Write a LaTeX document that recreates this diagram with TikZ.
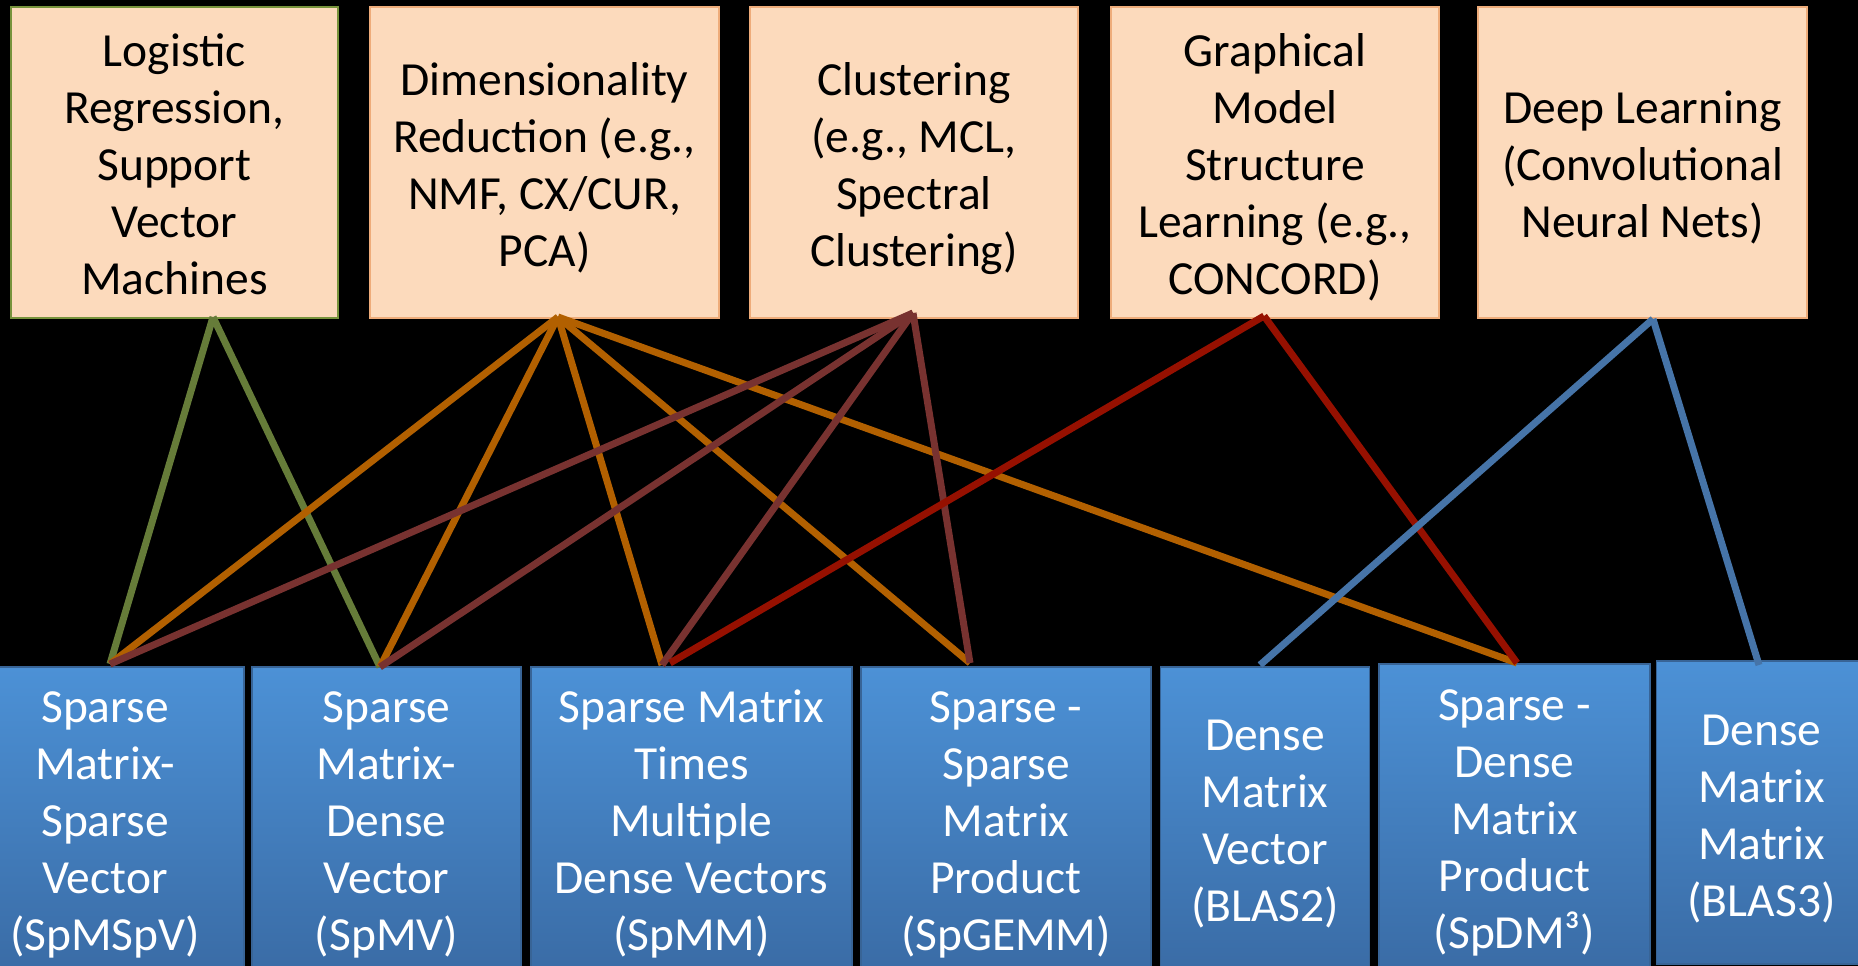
\documentclass[tikz,border=0pt]{standalone}
\usepackage{fontspec}
\setmainfont{Carlito}
\definecolor{peach}{RGB}{252,218,188}
\definecolor{peachedge}{RGB}{238,172,122}
\definecolor{olivebox}{RGB}{119,147,60}
\definecolor{bluetop}{RGB}{76,145,214}
\definecolor{bluebot}{RGB}{58,108,166}
\definecolor{blueedge}{RGB}{56,100,150}
\definecolor{lgreen}{RGB}{102,124,57}
\definecolor{lorange}{RGB}{178,96,0}
\definecolor{lbrown}{RGB}{120,50,48}
\definecolor{lred}{RGB}{150,16,0}
\definecolor{lblue}{RGB}{70,116,168}
\newcommand\hstrut{\rule{0pt}{49pt}}
\newcommand\dstrut{\rule[-13pt]{0pt}{13pt}}
\begin{document}
\begin{tikzpicture}[x=1pt,y=-1pt,
  txt/.style={align=center, font=\fontsize{47.5}{57}\selectfont},
  topbox/.style={rectangle, fill=peach, draw=peachedge, line width=1.2pt, inner sep=0pt,
    minimum height=311pt, txt, text=black},
  botbox/.style={rectangle, top color=bluetop, bottom color=bluebot, draw=blueedge,
    line width=1.2pt, inner sep=0pt, txt, text=white},
  link/.style={line width=7pt}]
\fill[black] (0,0) rectangle (1858,966);
\useasboundingbox (0,0) rectangle (1858,966);
\clip (0,0) rectangle (1858,966);
% top boxes
\node[topbox, draw=olivebox, minimum width=327pt] (t1) at (174.4,162.5)
  {\hstrut Logistic\\Regression,\\Support\\Vector\\Machines\dstrut};
\node[topbox, minimum width=349pt] (t2) at (544.5,162.5)
  {\hstrut Dimensionality\\Reduction (e.g.,\\NMF, CX/CUR,\\PCA)\dstrut};
\node[topbox, minimum width=328pt] (t3) at (914,162.5)
  {\hstrut Clustering\\(e.g., MCL,\\Spectral\\Clustering)\dstrut};
\node[topbox, minimum width=328pt] (t4) at (1275,162.5)
  {\hstrut Graphical\\Model\\Structure\\Learning (e.g.,\\CONCORD)\dstrut};
\node[topbox, minimum width=329pt] (t5) at (1642.5,162.5)
  {\hstrut Deep Learning\\(Convolutional\\Neural Nets)\dstrut};
% bottom boxes
\node[botbox, minimum width=278pt, minimum height=302pt] (bA) at (105,818)
  {\hstrut Sparse\\Matrix-\\Sparse\\Vector\\(SpMSpV)\dstrut};
\node[botbox, minimum width=269pt, minimum height=302pt] (bB) at (386.5,818)
  {\hstrut Sparse\\Matrix-\\Dense\\Vector\\(SpMV)\dstrut};
\node[botbox, minimum width=321pt, minimum height=302pt] (bC) at (691.5,818)
  {\hstrut Sparse Matrix\\Times\\Multiple\\Dense Vectors\\(SpMM)\dstrut};
\node[botbox, minimum width=290pt, minimum height=302pt] (bD) at (1006,818)
  {\hstrut Sparse -\\Sparse\\Matrix\\Product\\(SpGEMM)\dstrut};
\node[botbox, minimum width=209pt, minimum height=301pt] (bE) at (1265,817.5)
  {\hstrut Dense\\Matrix\\Vector\\(BLAS2)\dstrut};
\node[botbox, minimum width=271pt, minimum height=304pt] (bF) at (1514.5,816)
  {\hstrut Sparse -\\Dense\\Matrix\\Product\\(SpDM³)\dstrut};
\node[botbox, minimum width=210pt, minimum height=303pt] (bG) at (1761.5,812.5)
  {\hstrut Dense\\Matrix\\Matrix\\(BLAS3)\dstrut};
% connector end points
\coordinate (ag) at (213,317);
\coordinate (ao) at (558,317);
\coordinate (ab) at (913,313);
\coordinate (ar) at (1264,316);
\coordinate (al) at (1653,319);
\coordinate (pA) at (110,664);
\coordinate (pB) at (380,667);
\coordinate (pC) at (662,665);
\coordinate (pCr) at (670,663);
\coordinate (pD) at (970,663);
\coordinate (pE) at (1260,665);
\coordinate (pF) at (1517,663);
\coordinate (pG) at (1759,665);
% connectors
\draw[link, lgreen] (ag) -- (pA);
\draw[link, lgreen] (ag) -- (pB);
\draw[link, lorange] (ao) -- (pA);
\draw[link, lorange] (ao) -- (pB);
\draw[link, lorange] (ao) -- (pC);
\draw[link, lorange] (ao) -- (pD);
\draw[link, lorange] (ao) -- (pF);
\draw[link, lbrown] (ab) -- (pA);
\draw[link, lbrown] (ab) -- (pB);
\draw[link, lbrown] (ab) -- (pC);
\draw[link, lbrown] (ab) -- (pD);
\draw[link, lred] (ar) -- (pCr);
\draw[link, lred] (ar) -- (pF);
\draw[link, lblue] (al) -- (pE);
\draw[link, lblue] (al) -- (pG);
\end{tikzpicture}
\end{document}
